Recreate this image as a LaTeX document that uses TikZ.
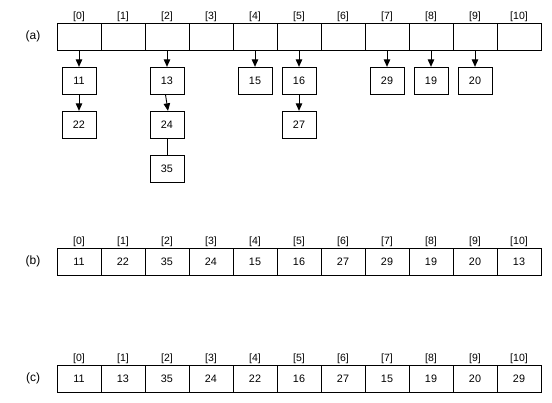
\documentclass[tikz,border=0pt]{standalone}
\usepackage{fontspec}
\setmainfont{Liberation Sans}
\usetikzlibrary{arrows.meta}
\begin{document}
\begin{tikzpicture}[x=1pt,y=-1pt,
  cell/.style={draw, line width=0.9pt, minimum width=44pt, minimum height=27pt, inner sep=0pt, font=\fontsize{10.8}{13}\selectfont},
  item/.style={draw, line width=0.9pt, minimum width=34pt, minimum height=27pt, inner sep=0pt, font=\fontsize{10.8}{13}\selectfont},
  idx/.style={anchor=south, inner sep=0.6pt, font=\fontsize{10.5}{12}\selectfont},
  lab/.style={inner sep=0pt, font=\fontsize{12}{14}\selectfont},
  ptr/.style={line width=0.9pt, -{Triangle[length=7.5pt,width=6.5pt]}},
  link/.style={line width=0.9pt}]
\useasboundingbox (0,0) rectangle (552,403);
% (a)
\node[lab] (la) at (33,36.8) {(a)};
\foreach \i in {0,...,10} {
  \node[cell] (a\i) at (79+44*\i,36.8) {};
  \node[idx] (ai\i) at (a\i.north) {[\i]};
}
\node[item] (n11) at (79,80.8) {11};
\node[item] (n22) at (79,124.8) {22};
\node[item] (n13) at (167,80.8) {13};
\node[item] (n24) at (167,124.8) {24};
\node[item] (n35) at (167,168.8) {35};
\node[item] (n15) at (255,80.8) {15};
\node[item] (n16) at (299,80.8) {16};
\node[item] (n27) at (299,124.8) {27};
\node[item] (n29) at (387,80.8) {29};
\node[item] (n19) at (431,80.8) {19};
\node[item] (n20) at (475,80.8) {20};
\draw[ptr] (a0) -- (n11);
\draw[ptr] (n11) -- (n22);
\draw[ptr] (a2) -- (n13);
\draw[ptr] ([xshift=-1.5pt]n13.south) -- ([xshift=1pt]n24.north);
\draw[link] (n24) -- (n35);
\draw[ptr] (a4) -- (n15);
\draw[ptr] (a5) -- (n16);
\draw[ptr] (n16) -- (n27);
\draw[ptr] (a7) -- (n29);
\draw[ptr] (a8) -- (n19);
\draw[ptr] (a9) -- (n20);
% (b)
\node[lab] (lb) at (33,261.7) {(b)};
\foreach \v [count=\i from 0] in {11,22,35,24,15,16,27,29,19,20,13} {
  \node[cell] (b\i) at (79+44*\i,261.7) {\v};
  \node[idx] (bi\i) at (b\i.north) {[\i]};
}
% (c)
\node[lab] (lc) at (33,378.7) {(c)};
\foreach \v [count=\i from 0] in {11,13,35,24,22,16,27,15,19,20,29} {
  \node[cell] (c\i) at (79+44*\i,378.7) {\v};
  \node[idx] (ci\i) at (c\i.north) {[\i]};
}
\end{tikzpicture}
\end{document}
